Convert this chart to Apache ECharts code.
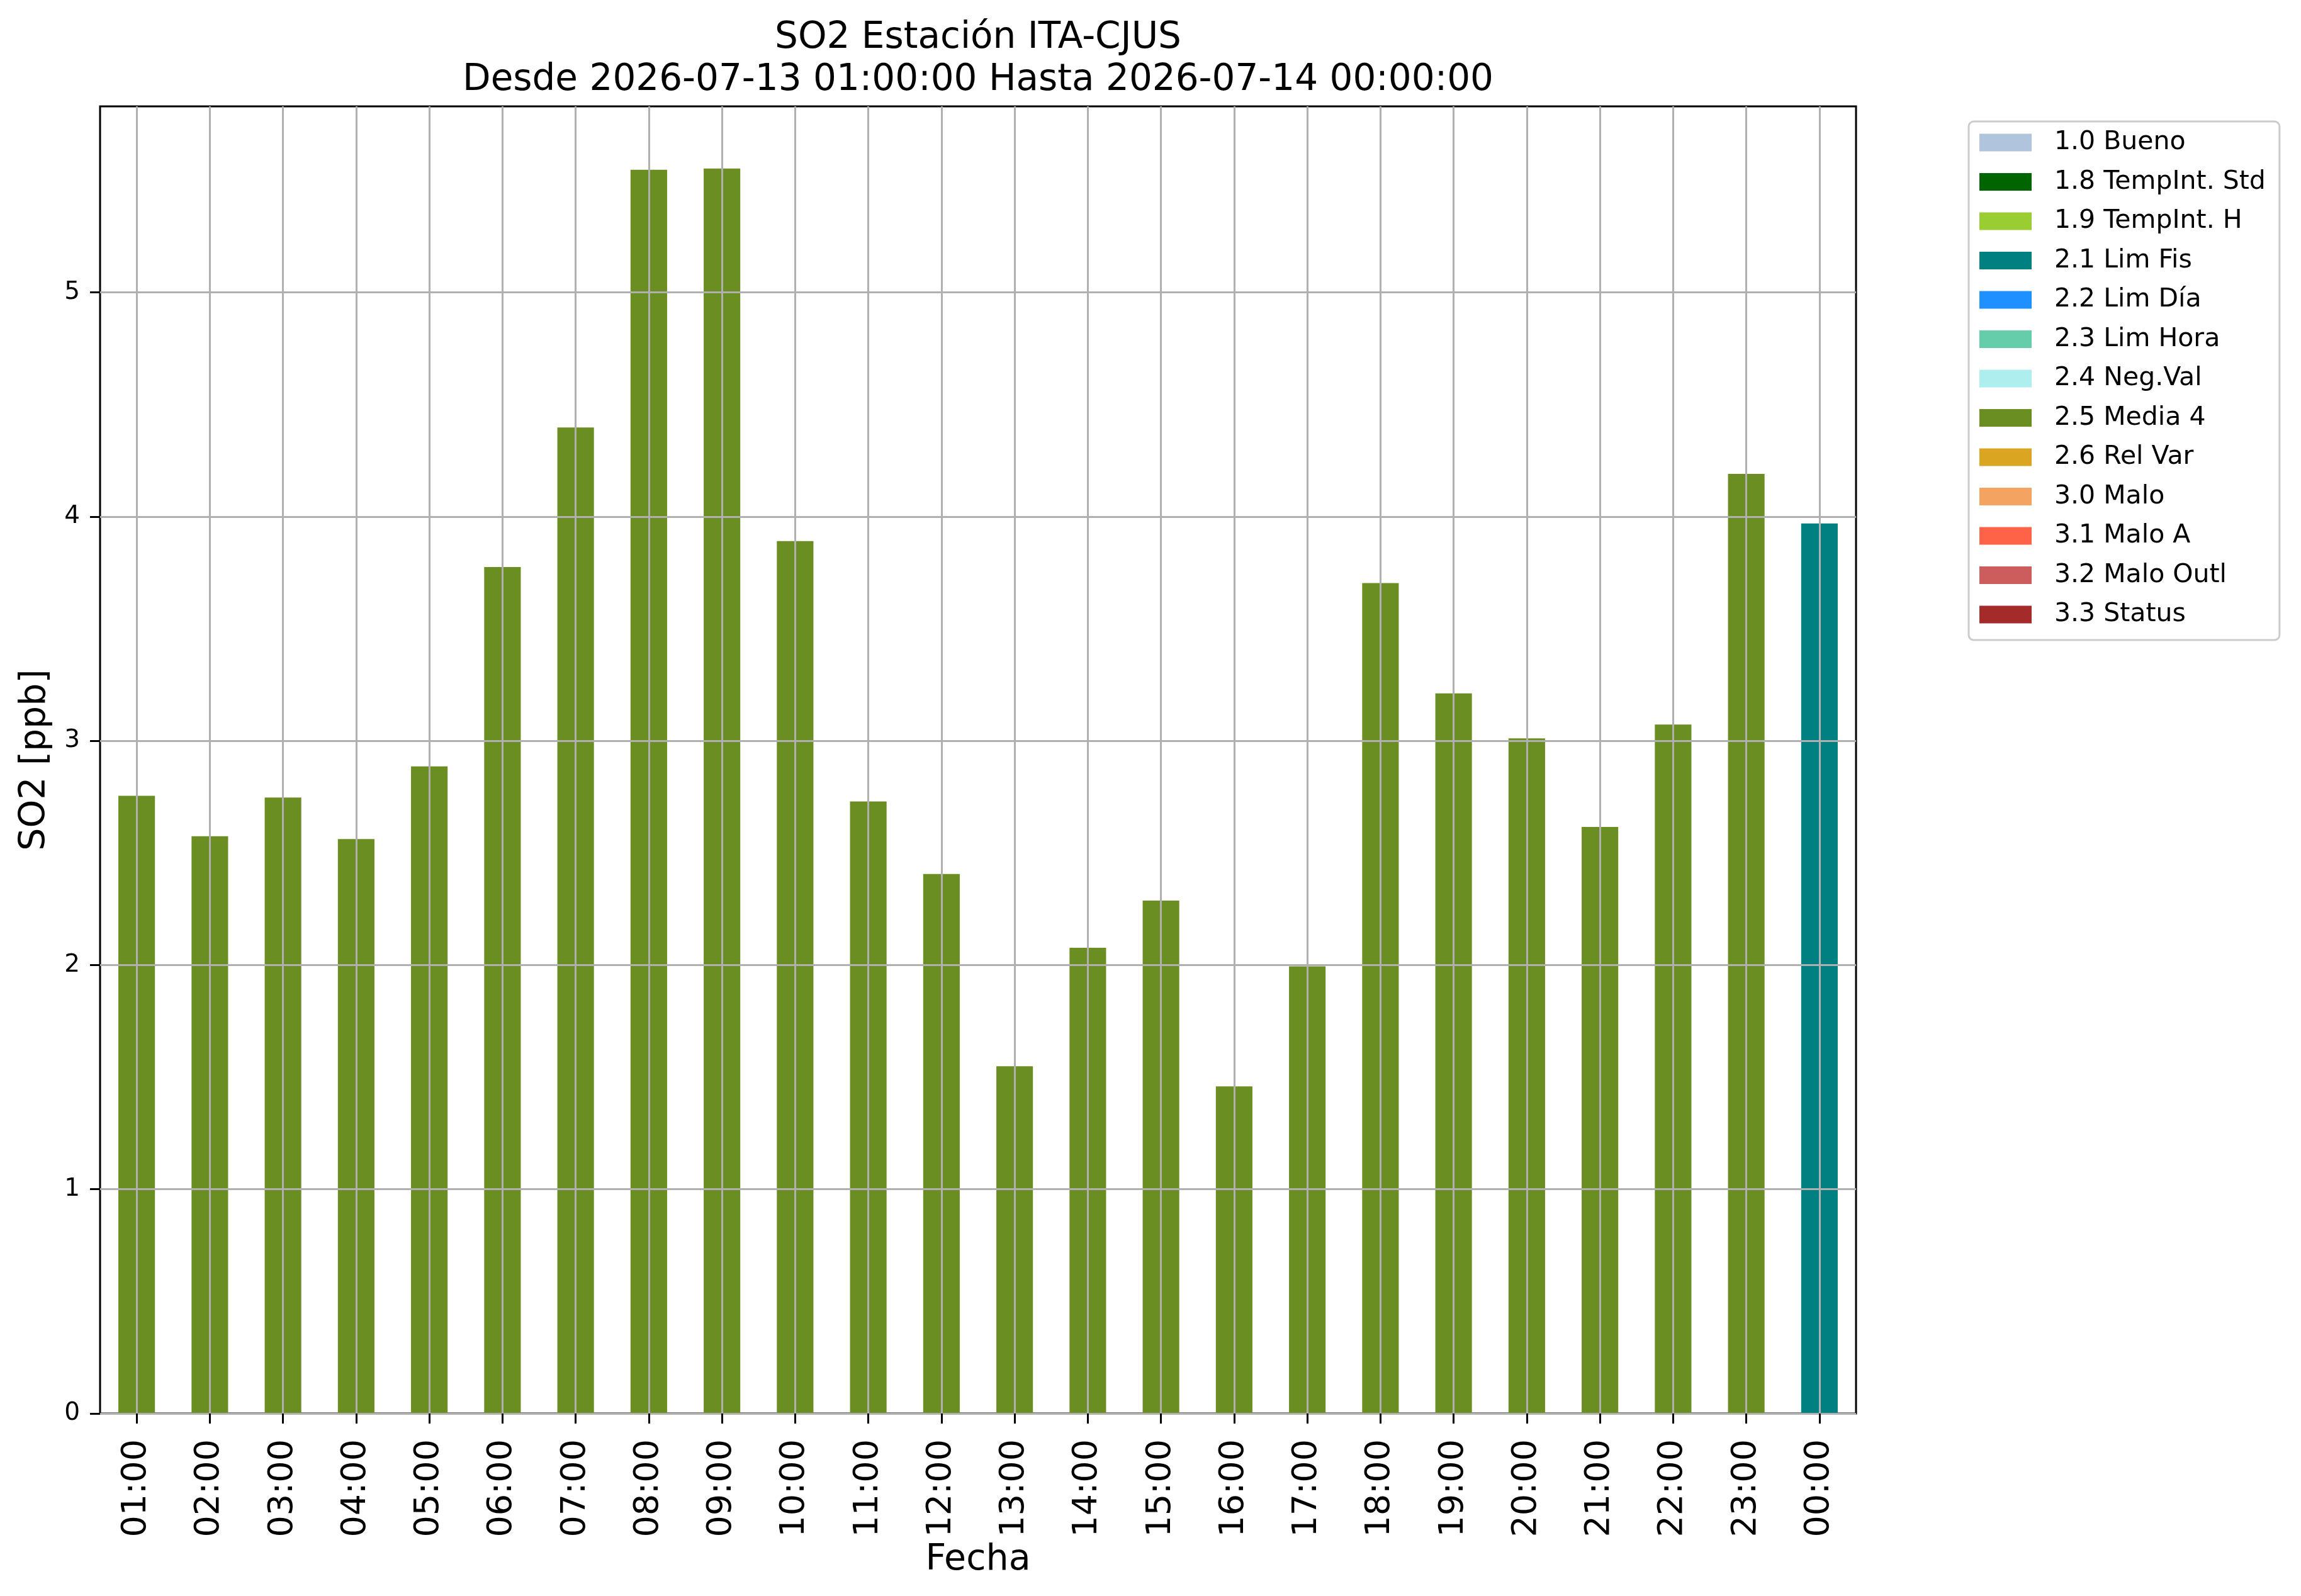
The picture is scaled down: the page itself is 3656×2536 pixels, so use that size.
<!DOCTYPE html>
<html>
<head>
<meta charset="utf-8">
<script src="https://cdn.jsdelivr.net/npm/echarts@6/dist/echarts.min.js"></script>
<style>
  html, body { margin: 0; padding: 0; background: #fff; }
  #chart { width: 3656px; height: 2536px; }
</style>
</head>
<body>
<div id="chart"></div>
<script>
// horas del periodo
const hours = ['01:00', '02:00', '03:00', '04:00', '05:00', '06:00', '07:00', '08:00',
  '09:00', '10:00', '11:00', '12:00', '13:00', '14:00', '15:00', '16:00',
  '17:00', '18:00', '19:00', '20:00', '21:00', '22:00', '23:00', '00:00'];

// SO2 [ppb]
const so2 = [2.755, 2.575, 2.747, 2.562, 2.886, 3.775, 4.398, 5.547,
  5.553, 3.891, 2.730, 2.406, 1.549, 2.077, 2.288, 1.459,
  1.994, 3.704, 3.212, 3.011, 2.616, 3.073, 4.191, 3.970];

// flag de validacion de cada hora
const hourFlags = ['2.5 Media 4', '2.5 Media 4', '2.5 Media 4', '2.5 Media 4', '2.5 Media 4',
  '2.5 Media 4', '2.5 Media 4', '2.5 Media 4', '2.5 Media 4', '2.5 Media 4',
  '2.5 Media 4', '2.5 Media 4', '2.5 Media 4', '2.5 Media 4', '2.5 Media 4',
  '2.5 Media 4', '2.5 Media 4', '2.5 Media 4', '2.5 Media 4', '2.5 Media 4',
  '2.5 Media 4', '2.5 Media 4', '2.5 Media 4', '2.1 Lim Fis'];

const flagNames = ['1.0 Bueno', '1.8 TempInt. Std', '1.9 TempInt. H', '2.1 Lim Fis',
  '2.2 Lim Día', '2.3 Lim Hora', '2.4 Neg.Val', '2.5 Media 4', '2.6 Rel Var',
  '3.0 Malo', '3.1 Malo A', '3.2 Malo Outl', '3.3 Status'];
const flagColors = ['#B0C4DE', '#006400', '#9ACD32', '#008080',
  '#1E90FF', '#66CDAA', '#AFEEEE', '#6B8E23', '#DAA520',
  '#F4A460', '#FF6347', '#CD5C5C', '#A52A2A'];

const yTicks = [0, 1, 2, 3, 4, 5];

const FONT = 'DejaVu Sans';

const series = flagNames.map((name, k) => ({
  name,
  type: 'bar',
  stack: 'flag',
  barWidth: '50%',
  itemStyle: {color: flagColors[k]},
  data: so2.map((v, i) => (hourFlags[i] === name ? v : '-')),
}));

const chart = echarts.init(document.getElementById('chart'), null, {renderer: 'canvas'});

chart.setOption({
  animation: false,
  backgroundColor: '#ffffff',
  title: {
    text: 'SO2 Estación ITA-CJUS\nDesde 2026-07-13 01:00:00 Hasta 2026-07-14 00:00:00',
    left: 1554,
    top: 27,
    padding: 0,
    textAlign: 'center',
    textStyle: {
      fontFamily: FONT,
      fontSize: 58,
      fontWeight: 'normal',
      color: '#000',
      lineHeight: 67,
    },
  },
  legend: {
    orient: 'vertical',
    left: 3128,
    top: 193,
    icon: 'rect',
    itemWidth: 83,
    itemHeight: 28,
    itemGap: 21.5,
    padding: [13, 22, 20, 17],
    borderColor: '#cccccc',
    borderWidth: 3,
    borderRadius: 8,
    selectedMode: false,
    data: flagNames,
    textStyle: {
      fontFamily: FONT,
      fontSize: 41,
      color: '#000',
      lineHeight: 41,
      padding: [0, 0, 0, 31],
    },
  },
  grid: {
    left: 159,
    right: 707,
    top: 169,
    bottom: 290,
    show: true,
    borderColor: '#000',
    borderWidth: 3,
    backgroundColor: 'transparent',
  },
  xAxis: {
    type: 'category',
    data: hours,
    z: 5,
    name: 'Fecha',
    nameLocation: 'middle',
    nameGap: 198,
    nameTextStyle: {fontFamily: FONT, fontSize: 57, color: '#000', lineHeight: 57},
    axisLine: {show: false},
    axisTick: {show: true, alignWithLabel: true, length: 16, lineStyle: {color: '#000', width: 3}},
    axisLabel: {
      rotate: 90,
      margin: 41,
      fontFamily: FONT,
      fontSize: 54,
      color: '#000',
      interval: 0,
    },
    splitLine: {show: true, alignWithLabel: true, lineStyle: {color: '#b0b0b0', width: 3}},
  },
  yAxis: {
    type: 'value',
    min: 0,
    max: 5.83,
    interval: 1,
    z: 5,
    name: 'SO2 [ppb]',
    nameLocation: 'middle',
    nameGap: 74,
    nameTextStyle: {fontFamily: FONT, fontSize: 57, color: '#000', lineHeight: 57},
    axisLine: {show: false},
    axisTick: {show: true, length: 16, lineStyle: {color: '#000', width: 3}, customValues: yTicks},
    axisLabel: {
      margin: 32,
      fontFamily: FONT,
      fontSize: 39,
      color: '#000',
      customValues: yTicks,
    },
    splitLine: {show: true, lineStyle: {color: '#b0b0b0', width: 3}},
  },
  series,
});

window.addEventListener('resize', chart.resize);
</script>
</body>
</html>
